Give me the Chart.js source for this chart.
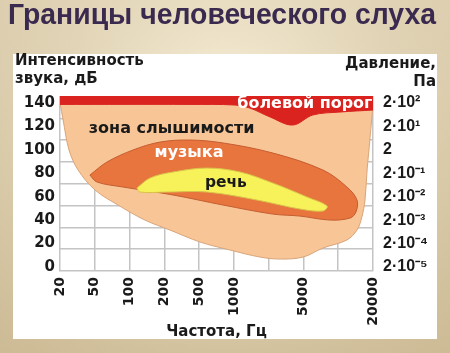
<!DOCTYPE html>
<html>
<head>
<meta charset="utf-8">
<style>
  html, body { margin: 0; padding: 0; background: #e2d4b3; }
  canvas { display: block; }
</style>
</head>
<body>
<canvas id="hearing" width="450" height="353"></canvas>
<script src="https://cdn.jsdelivr.net/npm/chart.js@4/dist/chart.umd.min.js"></script>
<script>
// x axis: evenly spaced frequency steps (Hz), blanks for unlabeled grid lines
const freqLabels = ['20', '50', '100', '200', '500', '1000', '', '5000', '', '20000'];
const dbTicks = [0, 20, 40, 60, 80, 100, 120, 140];
const paLabels = ['2·10⁻⁵', '2·10⁻⁴', '2·10⁻³', '2·10⁻²', '2·10⁻¹', '2', '2·10¹', '2·10²'];
const gridDb = [20, 40, 60, 80, 100, 120, 140];

// outlines: x = frequency step index, y = dB
const zoneX = [0, 9, 8.91, 8.83, 8.77, 8.68, 8.54, 8.25, 7.56, 6.99, 6.33, 5.75, 4.89, 4.03, 3.16, 2.44, 1.67, 1.01, 0.52, 0.26, 0.09, 0];
const zoneY = [140, 140, 108.4, 82.8, 57.2, 42.7, 31.6, 23.1, 16.2, 8.5, 6.8, 8.5, 14.5, 21.3, 31.6, 40.1, 52.9, 65.7, 82.8, 99.9, 125.5, 140];

// lower edge of the pain threshold band (band fills up to the top)
const painX = [0, 3.74, 5.03, 5.46, 6.04, 6.69, 7.27, 8.05, 9];
const painY = [138.8, 138.8, 138.3, 135.7, 128.1, 121.2, 129.8, 132.3, 134.0];

const musicX = [0.86, 1.35, 2.10, 2.88, 3.74, 4.69, 6.12, 7.56, 8.25, 8.54, 8.51, 8.34, 7.76, 6.90, 6.12, 4.69, 3.25, 1.81, 1.06, 0.86];
const musicY = [78.5, 89.6, 99.9, 106.7, 108.4, 105.9, 97.3, 82.8, 68.3, 57.2, 47.0, 41.8, 40.1, 43.5, 45.2, 52.9, 61.5, 68.3, 72.6, 78.5];

const speechX = [2.21, 2.59, 3.25, 4.23, 5.18, 6.12, 7.10, 7.68, 7.56, 6.90, 5.66, 4.23, 3.08, 2.30, 2.21];
const speechY = [67.4, 76.0, 81.1, 84.5, 81.1, 71.7, 59.8, 52.1, 47.8, 49.5, 57.2, 64.0, 64.0, 64.0, 67.4];

const zoneNames = ['болевой порог', 'зона слышимости', 'музыка', 'речь'];
const nameX = [7.04, 3.21, 3.71, 4.77];
const nameY = [139.2, 117.8, 97.3, 71.7];
const nameColor = ['#ffffff', '#1a1a1a', '#ffffff', '#1a1a1a'];

Chart.defaults.font.family = '"DejaVu Sans", sans-serif';
Chart.defaults.color = '#1a1a1a';

function shape(label, xs, ys, fill, line, order) {
    return {
        label: label,
        data: xs.map((x, i) => ({x: x, y: ys[i]})),
        showLine: true,
        fill: 'shape',
        backgroundColor: fill,
        borderColor: line,
        borderWidth: 1,
        pointRadius: 0,
        tension: 0.35,
        order: order
    };
}

var backdrop = {
    id: 'backdrop',
    beforeDraw: (chart) => {
        const {ctx, width, height} = chart;
        ctx.save();
        let g = ctx.createLinearGradient(0, 0, 0, height);
        g.addColorStop(0, '#ece1c5');
        g.addColorStop(1, '#d9caa6');
        ctx.fillStyle = g;
        ctx.fillRect(0, 0, width, height);
        let r = ctx.createRadialGradient(225, 120, 60, 225, 160, 330);
        r.addColorStop(0, 'rgba(255,248,230,0.35)');
        r.addColorStop(1, 'rgba(140,110,60,0.18)');
        ctx.fillStyle = r;
        ctx.fillRect(0, 0, width, height);
        ctx.fillStyle = '#ffffff';
        ctx.fillRect(13, 54, 424, 285);

        ctx.fillStyle = '#3b2a4f';
        ctx.font = 'bold 29px "Liberation Sans"';
        ctx.textBaseline = 'middle';
        ctx.textAlign = 'left';
        ctx.fillText('Границы человеческого слуха', 8, 16, 428);

        ctx.fillStyle = '#1a1a1a';
        ctx.font = 'bold 15px "DejaVu Sans"';
        ctx.fillText('Интенсивность', 15, 61, 131);
        ctx.fillText('звука, дБ', 15, 79);
        ctx.textAlign = 'right';
        ctx.fillText('Давление,', 436, 64, 95);
        ctx.fillText('Па', 436, 82);
        ctx.restore();
    },
    afterDatasetsDraw: (chart) => {
        const {ctx, scales} = chart;
        const maxW = [135, 170, 70, 42];
        ctx.save();
        ctx.font = 'bold 16px "DejaVu Sans"';
        ctx.textAlign = 'center';
        ctx.textBaseline = 'middle';
        zoneNames.forEach((t, i) => {
            ctx.fillStyle = nameColor[i];
            ctx.fillText(t, scales.x.getPixelForValue(nameX[i]), scales.y.getPixelForValue(nameY[i]), maxW[i]);
        });
        ctx.restore();
    }
};

const cnv = document.getElementById('hearing');
new Chart(cnv, {
    type: 'scatter',
    data: {
        datasets: [
            shape('зона слышимости', zoneX, zoneY, '#f7c596', '#d9a57a', 4),
            {
                label: 'болевой порог',
                data: painX.map((x, i) => ({x: x, y: painY[i]})),
                showLine: true,
                fill: 'end',
                backgroundColor: '#da231e',
                borderColor: '#da231e',
                borderWidth: 1,
                pointRadius: 0,
                tension: 0.35,
                order: 3
            },
            shape('музыка', musicX, musicY, '#e8743e', '#c65e30', 2),
            shape('речь', speechX, speechY, '#f8f25a', '#d9c24a', 1)
        ]
    },
    options: {
        responsive: false,
        animation: false,
        layout: { padding: { top: 96, left: 0, right: 0, bottom: 0 } },
        plugins: {
            legend: { display: false },
            tooltip: { enabled: false }
        },
        scales: {
            x: {
                type: 'linear',
                min: 0,
                max: 9,
                afterFit: (s) => { s.height = 82; },
                afterBuildTicks: (s) => { s.ticks = freqLabels.map((l, i) => ({value: i})); },
                ticks: {
                    autoSkip: false,
                    minRotation: 90,
                    maxRotation: 90,
                    padding: 6,
                    color: '#1a1a1a',
                    font: { size: 14, weight: 'bold' },
                    callback: (v) => freqLabels[v]
                },
                grid: { color: '#c4c4c4', lineWidth: 1.5, drawTicks: false },
                border: { color: '#c4c4c4', width: 1.5 },
                title: {
                    display: true,
                    text: 'Частота, Гц',
                    color: '#1a1a1a',
                    font: { size: 15, weight: 'bold' },
                    padding: { top: 0, bottom: 12 }
                }
            },
            y: {
                min: -3.4,
                max: 146,
                position: 'left',
                afterFit: (s) => { s.width = 60; },
                afterBuildTicks: (s) => { s.ticks = dbTicks.map(v => ({value: v})); },
                ticks: {
                    padding: 5,
                    color: '#1a1a1a',
                    font: { size: 15, weight: 'bold' }
                },
                grid: { display: false, drawTicks: false },
                border: { display: false }
            },
            yg: {
                min: 0,
                max: 160.6,
                position: 'left',
                afterFit: (s) => { s.width = 0; },
                afterBuildTicks: (s) => { s.ticks = gridDb.map(v => ({value: v})); },
                ticks: { display: false },
                grid: { color: '#c4c4c4', lineWidth: 1.5, drawTicks: false },
                border: { display: false }
            },
            y2: {
                min: -3.4,
                max: 146,
                position: 'right',
                afterFit: (s) => { s.width = 77; },
                afterBuildTicks: (s) => { s.ticks = dbTicks.map(v => ({value: v})); },
                ticks: {
                    padding: 10,
                    color: '#1a1a1a',
                    font: { family: '"Liberation Sans"', size: 16, weight: 'bold' },
                    callback: (v) => paLabels[dbTicks.indexOf(v)]
                },
                grid: { display: false, drawTicks: false },
                border: { display: false }
            }
        }
    },
    plugins: [backdrop]
});
</script>
</body>
</html>
